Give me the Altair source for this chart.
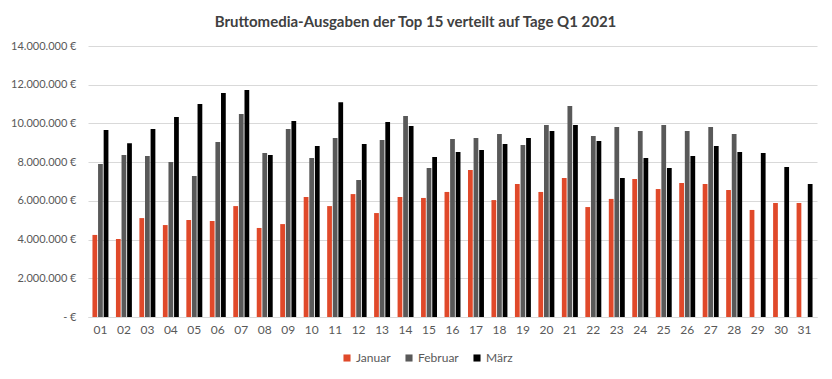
import altair as alt
import pandas as pd

days = [f"{d:02d}" for d in range(1, 32)]
months = ["Januar", "Februar", "März"]

januar = [4.24, 4.03, 5.11, 4.75, 5.01, 4.96, 5.73, 4.60, 4.80, 6.20, 5.73, 6.35, 5.37, 6.20,
          6.15, 6.46, 7.59, 6.04, 6.87, 6.46, 7.18, 5.68, 6.10, 7.13, 6.61, 6.92, 6.87, 6.56,
          5.53, 5.89, 5.89]
februar = [7.90, 8.37, 8.32, 8.01, 7.28, 9.04, 10.49, 8.47, 9.71, 8.21, 9.25, 7.08, 9.14, 10.38,
           7.70, 9.19, 9.25, 9.45, 8.88, 9.92, 10.90, 9.35, 9.81, 9.61, 9.92, 9.61, 9.81, 9.45,
           None, None, None]
maerz = [9.66, 8.97, 9.71, 10.33, 11.00, 11.57, 11.73, 8.37, 10.12, 8.83, 11.10, 8.94, 10.07, 9.87,
         8.26, 8.52, 8.63, 8.94, 9.25, 9.61, 9.92, 9.09, 7.18, 8.21, 7.70, 8.32, 8.83, 8.52,
         8.47, 7.75, 6.87]

colors = ["#E0492A", "#595959", "#000000"]

rows = []
for m, series in zip(months, [januar, februar, maerz]):
    for d, v in zip(days, series):
        if v is not None:
            rows.append({"Tag": d, "Monat": m, "Wert": v * 1_000_000})
df = pd.DataFrame(rows)

FONT = "Lato"

label_expr = ("datum.value == 0 ? '-   €' : "
              "replace(format(datum.value, ',.0f'), /,/g, '.') + ' €'")

chart = alt.Chart(df).mark_bar().encode(
    x=alt.X("Tag:N", sort=days, title=None,
            scale=alt.Scale(paddingInner=0.32, paddingOuter=0.19),
            axis=alt.Axis(labelAngle=0, ticks=False, domainColor="#D9D9D9",
                          labelColor="#595959", labelFontSize=12, labelFont=FONT,
                          labelPadding=7)),
    xOffset=alt.XOffset("Monat:N", sort=months, scale=alt.Scale(paddingInner=0.15)),
    y=alt.Y("Wert:Q", title=None,
            scale=alt.Scale(domain=[0, 14_000_000], nice=False),
            axis=alt.Axis(values=[0, 2e6, 4e6, 6e6, 8e6, 10e6, 12e6, 14e6],
                          labelExpr=label_expr, domain=False, ticks=False,
                          gridColor="#D9D9D9", labelColor="#595959",
                          labelFontSize=11, labelFont=FONT, labelPadding=12)),
    color=alt.Color("Monat:N", sort=months,
                    scale=alt.Scale(domain=months, range=colors),
                    legend=alt.Legend(title=None, orient="none", direction="horizontal",
                                      legendX=253, legendY=306, symbolType="square",
                                      symbolSize=50, symbolStrokeWidth=0,
                                      labelFont=FONT, labelFontSize=12,
                                      labelColor="#595959", columnPadding=12,
                                      labelOffset=3)),
).properties(
    width=729,
    height=271,
    title=alt.TitleParams("Bruttomedia-Ausgaben der Top 15 verteilt auf Tage Q1 2021",
                          font=FONT, fontSize=15, fontWeight="bold", color="#404040",
                          anchor="middle", dx=-37, offset=10),
    autosize=alt.AutoSizeParams(type="none"),
    padding={"left": 80, "top": 38, "right": 7, "bottom": 55},
).configure_view(stroke=None)

chart.save("out.html", embed_options={"renderer": "svg", "actions": False})
